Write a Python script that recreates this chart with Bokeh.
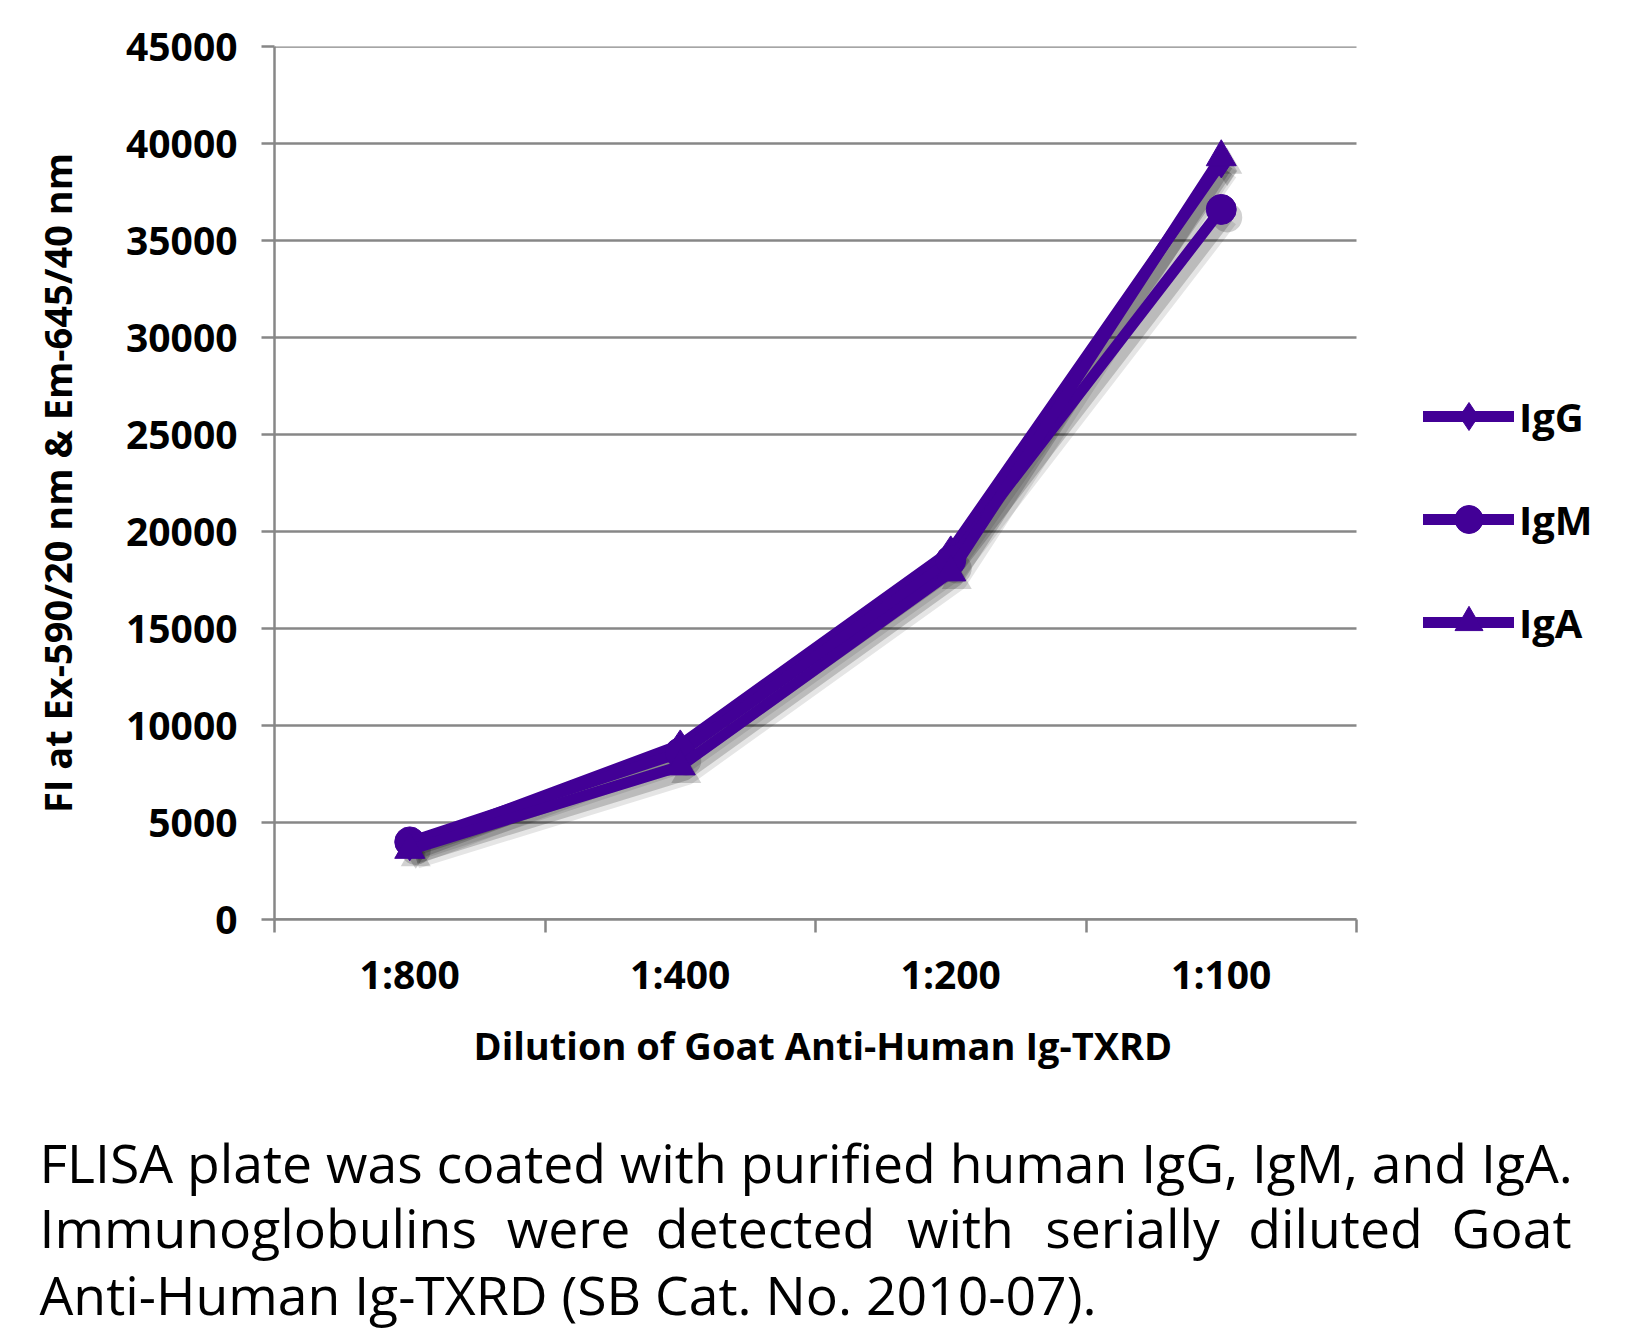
from bokeh.plotting import figure
from bokeh.layouts import column
from bokeh.models import Range1d, FixedTicker, Legend, LegendItem, Label, NumeralTickFormatter, Title
from bokeh.embed import file_html
from bokeh.resources import INLINE

# ---------------- data ----------------
dilutions = ["1:800", "1:400", "1:200", "1:100"]
igg = [3800, 9000, 19000, 39000]
igm = [4000, 8600, 18500, 36600]
iga = [3600, 7900, 17900, 39300]
series_names = ["IgG", "IgM", "IgA"]
series_markers = ["diamond", "circle", "triangle"]
y_ticks = [0, 5000, 10000, 15000, 20000, 25000, 30000, 35000, 40000, 45000]
x_title = "Dilution of Goat Anti-Human Ig-TXRD"
y_title = "FI at Ex-590/20 nm & Em-645/40 nm"
caption_line1 = "FLISA plate was coated with purified human IgG, IgM, and IgA."
caption_line2_words = ["Immunoglobulins", "were", "detected", "with", "serially", "diluted", "Goat"]
caption_line3 = "Anti-Human Ig-TXRD (SB Cat. No. 2010-07)."

# ---------------- style / layout ----------------
PURPLE = "#420096"
GRID = "#878787"
FONT = "Open Sans"
W = 1620
H1 = 1110           # chart figure height
H2 = 220            # caption figure height
FL, FT = 274, 46    # frame left / top
FRAME_BOTTOM = 919
PLOT_W = 1082       # width of the plotted (axis) area
frame_w = W - FL
frame_h = FRAME_BOTTOM - FT

n = len(dilutions)
xs = [i + 0.5 for i in range(n)]
y_max = y_ticks[-1]
x_end = n * frame_w / PLOT_W

p = figure(width=W, height=H1, x_range=Range1d(0, x_end), y_range=Range1d(0, y_max),
           output_backend="svg", toolbar_location=None,
           min_border_left=FL, min_border_right=0, min_border_top=FT,
           min_border_bottom=H1 - FRAME_BOTTOM,
           background_fill_color="white", border_fill_color="white", outline_line_color=None)
p.frame_align = False

# shadow ranges (small pixel offset down-right)
dx = 6 * x_end / frame_w
dy = 8 * y_max / frame_h
p.extra_x_ranges = {"sx": Range1d(-dx, x_end - dx)}
p.extra_y_ranges = {"sy": Range1d(dy, y_max + dy)}

# axes
xa = p.xaxis[0]
xa.bounds = (0, n)
xa.ticker = FixedTicker(ticks=xs, minor_ticks=list(range(n + 1)))
xa.major_label_overrides = {x: d for x, d in zip(xs, dilutions)}
xa.major_tick_out = 0
xa.major_tick_in = 0
xa.major_tick_line_color = None
xa.minor_tick_out = 13
xa.minor_tick_in = 0
xa.minor_tick_line_color = GRID
xa.minor_tick_line_width = 2.5
xa.axis_line_color = GRID
xa.axis_line_width = 2.5
xa.major_label_text_font = FONT
xa.major_label_text_font_style = "bold"
xa.major_label_text_font_size = "39px"
xa.major_label_text_color = "black"
xa.major_label_standoff = 14

# x-axis title centred under the plotted area (not the whole frame)
p.add_layout(Title(text=x_title, align="left", offset=199, standoff=28,
                   text_font=FONT, text_font_style="bold", text_font_size="38px",
                   text_color="black"), "below")

ya = p.yaxis[0]
ya.ticker = FixedTicker(ticks=y_ticks)
ya.formatter = NumeralTickFormatter(format="0")
ya.major_tick_out = 13
ya.major_tick_in = 0
ya.major_tick_line_color = GRID
ya.major_tick_line_width = 2.5
ya.minor_tick_line_color = None
ya.axis_line_color = GRID
ya.axis_line_width = 2.5
ya.major_label_text_font = FONT
ya.major_label_text_font_style = "bold"
ya.major_label_text_font_size = "39px"
ya.major_label_text_color = "black"
ya.major_label_standoff = 24
ya.axis_label = y_title
ya.axis_label_text_font = FONT
ya.axis_label_text_font_style = "bold"
ya.axis_label_text_font_size = "38px"
ya.axis_label_text_color = "black"
ya.axis_label_standoff = 40

p.xgrid.visible = False
p.ygrid.visible = False
# horizontal grid lines limited to the plotted area
p.segment(x0=[0] * len(y_ticks), y0=y_ticks, x1=[n] * len(y_ticks), y1=y_ticks,
          line_color=GRID, line_width=2.5)

# series shadows
all_vals = [igg, igm, iga]
for vals, mk in zip(all_vals, series_markers):
    p.line(xs, vals, x_range_name="sx", y_range_name="sy", line_color="black",
           line_alpha=0.10, line_width=22, line_join="round")
    p.line(xs, vals, x_range_name="sx", y_range_name="sy", line_color="black",
           line_alpha=0.18, line_width=12, line_join="round")
    p.scatter(xs, vals, x_range_name="sx", y_range_name="sy", marker=mk, size=30,
              fill_color="black", fill_alpha=0.18, line_color=None)

items = []
for name, vals, mk in zip(series_names, all_vals, series_markers):
    lr = p.line(xs, vals, line_color=PURPLE, line_width=11, line_join="round", line_cap="round")
    sr = p.scatter(xs, vals, marker=mk, size=30, fill_color=PURPLE, line_color=PURPLE)
    items.append(LegendItem(label=name, renderers=[lr, sr]))

legend = Legend(items=items, location=(1149, 262), orientation="vertical",
                glyph_width=91, glyph_height=70, label_standoff=5, spacing=33,
                padding=0, margin=0, border_line_color=None, background_fill_alpha=0,
                label_text_font=FONT, label_text_font_style="bold",
                label_text_font_size="40px", label_text_color="black")
p.add_layout(legend)

# ---------------- caption figure ----------------
c = figure(width=W, height=H2, x_range=Range1d(0, W), y_range=Range1d(0, H2),
           output_backend="svg", toolbar_location=None,
           x_axis_location=None, y_axis_location=None,
           min_border=0, background_fill_color="white", border_fill_color="white",
           outline_line_color=None)
c.frame_align = False
c.xgrid.visible = False
c.ygrid.visible = False

cap_font = "53.5px"
def add_cap(text, x, y, align="left"):
    c.add_layout(Label(x=x, y=y, text=text,
                       text_font=FONT, text_font_size=cap_font, text_color="black",
                       text_align=align, text_baseline="alphabetic"))

add_cap(caption_line1, 39, 168)
word_pos = [(39, "left"), (568, "center"), (765, "center"), (960, "center"),
            (1132, "center"), (1335, "center"), (1571, "right")]
for w, (x, al) in zip(caption_line2_words, word_pos):
    add_cap(w, x, 103, al)
add_cap(caption_line3, 39, 36)

layout = column(p, c, spacing=0)
open("out.html", "w").write(file_html(layout, INLINE))
